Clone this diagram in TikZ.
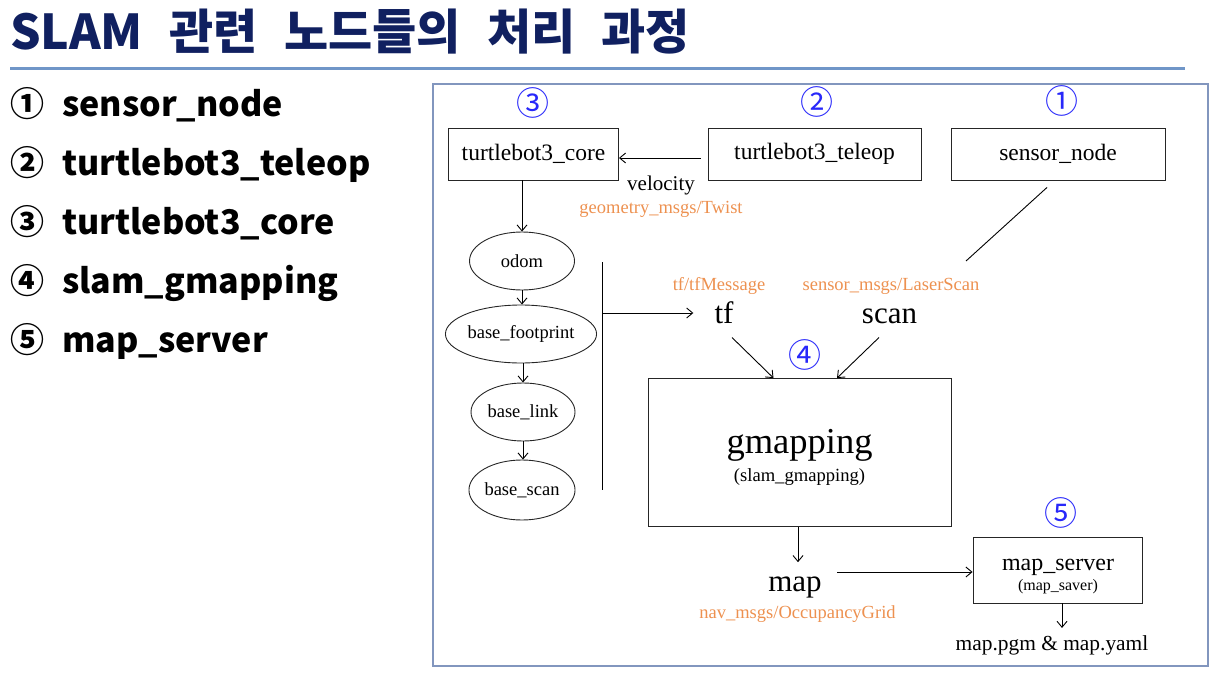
\documentclass[tikz,border=0pt]{standalone}
\usepackage{fontspec}
\setmainfont{Liberation Serif}
\newfontfamily\kr{Noto Sans CJK KR}
\usetikzlibrary{shapes.geometric,arrows.meta}
\newcommand\fsz[1]{\fontsize{#1}{#1}\selectfont}
\newcommand\tsp{\hspace{0.55em}}
\definecolor{navy}{RGB}{16,32,96}
\definecolor{ruleblue}{RGB}{112,150,200}
\definecolor{framec}{RGB}{130,150,190}
\definecolor{orangec}{RGB}{237,145,80}
\definecolor{numblue}{RGB}{40,40,250}
\tikzset{
  box/.style={draw=black!85, line width=0.9pt, inner sep=0pt, minimum height=52pt, font=\fsz{23.5}},
  ell/.style={ellipse, draw=black!85, line width=0.9pt, inner sep=0pt, minimum width=104pt, minimum height=58pt, font=\fsz{18.5}},
  arr/.style={-{Straight Barb[length=6pt,width=10pt]}, line width=0.9pt},
  plain/.style={line width=0.9pt},
  txt/.style={inner sep=2pt, anchor=base},
  orng/.style={txt, text=orangec, font=\fsz{18.5}},
  big/.style={txt, font=\fsz{31}},
  num/.style={inner sep=0pt, text=numblue, font=\kr\fsz{33}},
  lnum/.style={inner sep=0pt, anchor=base west, font=\kr\bfseries\fsz{34}},
  litem/.style={inner sep=0pt, anchor=base west, font=\kr\bfseries\fsz{34}},
}
\begin{document}
\begin{tikzpicture}[x=1pt,y=-1pt]
\useasboundingbox (0,0) rectangle (1219,675);
% title
\node[inner sep=0pt, anchor=base west, text=navy, font=\kr\bfseries\fsz{48}] (title) at (10,49) {SLAM\tsp 관련\tsp 노드들의\tsp 처리\tsp 과정};
\coordinate (rl) at (10,68); \coordinate (rr) at (1185,68);
\draw[ruleblue, line width=3pt] (rl) -- (rr);
% list
\node[lnum] (n1l) at (10,116) {①}; \node[litem] (l1) at (62,116) {sensor\_node};
\node[lnum] (n2l) at (10,175) {②}; \node[litem] (l2) at (62,175) {turtlebot3\_teleop};
\node[lnum] (n3l) at (10,234) {③}; \node[litem] (l3) at (62,234) {turtlebot3\_core};
\node[lnum] (n4l) at (10,293) {④}; \node[litem] (l4) at (62,293) {slam\_gmapping};
\node[lnum] (n5l) at (10,352) {⑤}; \node[litem] (l5) at (62,352) {map\_server};
% frame
\coordinate (f1) at (433,84); \coordinate (f2) at (1208,666);
\draw[framec, line width=1.3pt] (f1) rectangle (f2);
% circled numbers
\node[num] (c3) at (533,103) {③};
\node[num] (c2) at (817,102) {②};
\node[num] (c1) at (1062,101) {①};
\node[num] (c4) at (805,355) {④};
\node[num] (c5) at (1061,513) {⑤};
% top boxes
\node[box, minimum width=170pt] (core) at (533.5,154) {turtlebot3\_core};
\node[box, minimum width=213pt] (teleop) at (814.5,154) {turtlebot3\_teleop};
\node[box, minimum width=214pt] (sensor) at (1058,154) {sensor\_node};
\draw[arr, shorten <=7pt] ([yshift=-4pt]teleop.west) -- ([yshift=-4pt]core.east);
\node[txt, font=\fsz{21}] (vel) at (661,190) {velocity};
\node[orng] (twist) at (661,213) {geometry\_msgs/Twist};
% tf tree
\node[ell, minimum width=105pt] (odom) at (522,261) {odom};
\node[ell, minimum width=130pt] (fp) at (521,334) {base\_footprint};
\node[ell] (bl) at (523,412) {base\_link};
\node[ell, minimum height=60pt] (bs) at (522,490) {base\_scan};
\draw[arr] (core.south -| odom.north) -- (odom.north);
\draw[arr] (odom.south) -- (fp.north -| odom.south);
\draw[arr] (fp.south -| bl.north) -- (bl.north);
\draw[arr] (bl.south) -- (bs.north -| bl.south);
\coordinate (vt) at (602,262); \coordinate (vb) at (602,490); \coordinate (vm) at (602,313);
\draw[plain] (vt) -- (vb);
% topics
\node[big] (tf) at (724,323) {tf};
\node[big] (scan) at (889.5,323) {scan};
\node[orng] (tfm) at (719,290) {tf/tfMessage};
\node[orng] (lsm) at (891,290) {sensor\_msgs/LaserScan};
\draw[arr, shorten >=19pt] (vm) -- (vm -| tf.west);
\coordinate (se) at (966,261);
\draw[plain] ([xshift=-11pt,yshift=-7pt]sensor.south) -- (se);
% gmapping
\node[draw=black!85, line width=0.9pt, minimum width=303pt, minimum height=148pt, inner sep=0pt] (gm) at (799.5,452.5) {};
\node[txt, font=\fsz{36.5}] (gmt) at (799.5,453) {gmapping};
\node[txt, font=\fsz{18.6}] (gms) at (799.5,481) {(slam\_gmapping)};
\draw[arr] ([xshift=8pt,yshift=-12pt]tf.south) -- ([xshift=-26pt]gm.north);
\draw[arr] ([xshift=-10.5pt,yshift=-12pt]scan.south) -- ([xshift=37.5pt]gm.north);
% map
\node[big] (map) at (795,591) {map};
\node[orng] (occ) at (797.5,618) {nav\_msgs/OccupancyGrid};
\draw[arr, shorten >=12pt] ([xshift=-1.5pt]gm.south) -- ([xshift=-1.5pt]gm.south |- map.north);
\node[draw=black!85, line width=0.9pt, minimum width=169pt, minimum height=66pt, inner sep=0pt] (ms) at (1057.5,570) {};
\node[txt, font=\fsz{24}] (mst) at (1058,570) {map\_server};
\node[txt, font=\fsz{16}] (mss) at (1058,590) {(map\_saver)};
\coordinate (mo) at (837,572);
\draw[arr] (mo) -- (mo -| ms.west);
\node[txt, font=\fsz{21.4}] (files) at (1052,650) {map.pgm \& map.yaml};
\draw[arr, shorten >=5pt] ([xshift=4.5pt]ms.south) -- ([xshift=4.5pt]ms.south |- files.north);
\end{tikzpicture}
\end{document}
